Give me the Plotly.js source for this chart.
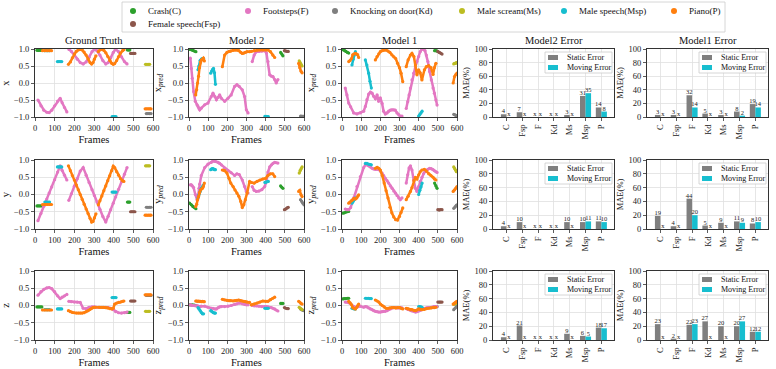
<!DOCTYPE html>
<html><head><meta charset="utf-8">
<script src="https://cdn.plot.ly/plotly-3.0.1.min.js"></script>
<style>html,body{margin:0;padding:0;background:#fff}#chart{width:776px;height:369px}</style>
</head><body><div id="chart"></div>
<script>
// ---------------- categories ----------------
const classKeys = ['C','Fsp','F','Kd','Ms','Msp','P'];
const classNames = ['Crash(C)','Female speech(Fsp)','Footsteps(F)','Knocking on door(Kd)','Male scream(Ms)','Male speech(Msp)','Piano(P)'];
const classColors = ['#2ca02c','#8c564b','#e377c2','#7f7f7f','#bcbd22','#17becf','#ff7f0e'];
const colTitles = ['Ground Truth','Model 2','Model 1','Model2 Error','Model1 Error'];
const yTitlesGT = ['x','y','z'];
const yTitlesPred = ['x<sub><i>pred</i></sub>','y<sub><i>pred</i></sub>','z<sub><i>pred</i></sub>'];
const barCats = ['C','Fsp','F','Kd','Ms','Msp','P'];
const barSeries = ['Static Error','Moving Error'];

// ---------------- Ground truth ----------------
const gt_C_f = [10,18,26,35,null,470,476,482];
const gt_C_x = [0.96,0.96,0.96,0.96,null,0.97,0.97,0.97];
const gt_C_y = [-0.33,-0.33,-0.33,-0.33,null,-0.22,-0.22,-0.22];
const gt_C_z = [-0.04,-0.04,-0.04,-0.04,null,-0.2,-0.2,-0.2];
const gt_Fsp_f = [486,493,500,508];
const gt_Fsp_x = [0.87,0.87,0.87,0.87];
const gt_Fsp_y = [-0.5,-0.5,-0.5,-0.5];
const gt_Fsp_z = [0.13,0.13,0.13,0.13];
const gt_F_f = [15,30,45,60,72,85,100,115,128,138,150,162,null,172,185,200,215,230,245,260,275,290,302,315,330,345,360,372,385,398,410,425,440,455,468];
const gt_F_x = [-0.5,-0.67,-0.8,-0.86,-0.87,-0.8,-0.67,-0.53,-0.45,-0.58,-0.72,-0.85,null,0.99,0.93,0.82,0.7,0.6,0.56,0.62,0.76,0.92,0.99,0.95,0.82,0.66,0.56,0.6,0.74,0.9,0.99,0.92,0.77,0.63,0.56];
const gt_F_y = [-0.76,-0.55,-0.34,-0.13,0.04,0.22,0.43,0.65,0.83,0.7,0.56,0.42,null,-0.17,0.02,0.24,0.46,0.68,0.78,0.56,0.35,0.14,-0.03,-0.22,-0.43,-0.64,-0.8,-0.63,-0.44,-0.25,-0.07,0.15,0.37,0.59,0.78];
const gt_F_z = [0.3,0.4,0.47,0.51,0.52,0.49,0.4,0.28,0.2,0.24,0.28,0.32,null,0.12,0.11,0.1,0.1,0.09,-0.08,-0.09,-0.05,-0.04,-0.04,-0.05,-0.05,-0.05,-0.05,-0.06,-0.08,-0.12,-0.18,-0.21,-0.22,-0.21,-0.19];
const gt_Kd_f = [566,574,582,590];
const gt_Kd_x = [-0.9,-0.9,-0.9,-0.9];
const gt_Kd_y = [-0.37,-0.37,-0.37,-0.37];
const gt_Kd_z = [0.29,0.29,0.29,0.29];
const gt_Ms_f = [562,569,576,583];
const gt_Ms_x = [0.55,0.55,0.55,0.55];
const gt_Ms_y = [0.83,0.83,0.83,0.83];
const gt_Ms_z = [-0.17,-0.17,-0.17,-0.17];
const gt_Msp_f = [50,58,66,74,null,114,121,128,136,null,392,399,406,412];
const gt_Msp_x = [0.95,0.95,0.95,0.95,null,0.63,0.63,0.63,0.63,null,-0.99,-0.99,-0.99,-0.99];
const gt_Msp_y = [-0.22,-0.22,-0.22,-0.22,null,0.8,0.8,0.8,0.8,null,0.07,0.07,0.07,0.07];
const gt_Msp_z = [-0.12,-0.12,-0.12,-0.12,null,-0.1,-0.1,-0.1,-0.1,null,0.23,0.23,0.23,0.23];
const gt_P_f = [38,50,62,74,84,null,170,180,190,200,210,220,230,240,250,260,270,280,288,295,302,310,null,322,330,340,350,360,370,380,390,398,405,415,425,435,445,452,null,560,568,576,584,590];
const gt_P_x = [0.95,0.95,0.95,0.95,0.95,null,0.55,0.62,0.74,0.85,0.93,0.97,0.99,0.97,0.91,0.82,0.71,0.6,0.56,0.6,0.7,0.8,null,0.92,0.97,0.99,0.96,0.89,0.78,0.66,0.58,0.55,0.57,0.66,0.78,0.88,0.95,0.98,null,-0.76,-0.76,-0.76,-0.76,-0.76];
const gt_P_y = [-0.29,-0.29,-0.29,-0.29,-0.29,null,0.83,0.69,0.55,0.42,0.28,0.14,0.0,-0.14,-0.28,-0.42,-0.55,-0.69,-0.8,-0.78,-0.68,-0.56,null,-0.3,-0.18,-0.04,0.11,0.25,0.4,0.54,0.69,0.82,0.78,0.66,0.56,0.46,0.4,0.38,null,-0.6,-0.6,-0.6,-0.6,-0.6];
const gt_P_z = [-0.13,-0.13,-0.13,-0.13,-0.13,null,-0.15,-0.18,-0.2,-0.21,-0.22,-0.22,-0.22,-0.22,-0.21,-0.18,-0.15,-0.11,-0.08,-0.06,-0.05,-0.05,null,-0.05,-0.05,-0.05,-0.05,-0.06,-0.07,-0.09,-0.1,-0.08,0.04,0.07,0.09,0.1,0.12,0.13,null,0.31,0.31,0.31,0.31,0.31];

// ---------------- Model 2 ----------------
const m2_C_f = [3,12,20,28,36,null,478,484,490];
const m2_C_x = [0.99,0.98,0.96,0.94,0.92,null,0.9,0.85,0.8];
const m2_C_y = [-0.25,-0.3,-0.35,-0.38,-0.41,null,0.25,0.21,0.18];
const m2_C_z = [0.02,0.02,0.02,0.01,0.0,null,0.06,0.06,0.06];
const m2_Fsp_f = [498,505,512,518];
const m2_Fsp_x = [0.95,0.94,0.93,0.93];
const m2_Fsp_y = [-0.44,-0.42,-0.39,-0.37];
const m2_Fsp_z = [-0.06,-0.08,-0.09,-0.09];
const m2_F_f = [7,12,17,24,33,42,47,52,56,64,82,99,116,125,135,143,152,160,169,186,203,220,238,250,262,278,290,299,308,null,330,340,351,365,380,395,404,412,421,430,438,447,455,464];
const m2_F_x = [0.73,0.43,0.14,-0.25,-0.54,-0.64,-0.69,-0.75,-0.79,-0.74,-0.64,-0.59,-0.4,-0.3,-0.4,-0.49,-0.42,-0.35,-0.45,-0.54,-0.45,-0.35,-0.1,-0.05,-0.1,-0.2,-0.4,-0.79,-0.88,null,0.63,0.82,0.92,0.93,0.94,0.95,0.88,0.63,0.24,0.2,0.19,0.1,0.0,0.1];
const m2_F_y = [0.28,0.28,0.25,0.2,0.0,-0.15,-0.06,0.18,0.3,0.55,0.78,0.88,0.93,0.97,0.96,0.95,0.93,0.9,0.86,0.76,0.69,0.63,0.55,0.6,0.58,0.42,0.23,0.09,0.04,null,0.23,0.12,0.09,0.1,0.14,0.23,0.38,0.65,0.8,0.86,0.9,0.93,0.92,0.91];
const m2_F_z = [0.02,0.01,0.0,0.0,-0.01,-0.01,-0.02,-0.03,-0.03,-0.02,-0.02,-0.05,-0.08,-0.08,-0.1,-0.1,-0.06,-0.04,-0.03,-0.03,-0.02,0.0,0.03,0.05,0.07,0.05,0.03,0.02,0.02,null,0.0,-0.01,-0.01,-0.02,-0.03,-0.03,-0.03,-0.04,-0.05,-0.06,-0.08,-0.1,-0.13,-0.16];
const m2_Kd_f = [582,588,594,600];
const m2_Kd_x = [-0.97,-0.98,-0.98,-0.98];
const m2_Kd_y = [-0.15,-0.2,-0.25,-0.3];
const m2_Kd_z = [-0.1,-0.12,-0.14,-0.15];
const m2_Ms_f = [575,580,585,590];
const m2_Ms_x = [0.65,0.6,0.55,0.5];
const m2_Ms_y = [0.62,0.7,0.75,0.8];
const m2_Ms_z = [-0.05,-0.08,-0.1,-0.12];
const m2_Msp_f = [47,52,58,64,70,76,null,113,118,123,128,133,138,null,396,402,408,414];
const m2_Msp_x = [0.39,0.5,0.66,0.7,0.72,0.72,null,0.29,0.35,0.4,0.43,0.3,-0.04,null,-0.98,-0.98,-0.99,-0.99];
const m2_Msp_y = [-0.1,0.0,0.09,0.18,0.23,0.28,null,0.72,0.74,0.75,0.74,0.72,0.72,null,0.35,0.36,0.37,0.38];
const m2_Msp_z = [-0.06,-0.1,-0.15,-0.2,-0.24,-0.24,null,-0.15,-0.17,-0.19,-0.21,-0.22,-0.22,null,-0.08,-0.08,-0.08,-0.08];
const m2_P_f = [35,40,45,50,55,60,65,70,75,80,null,174,186,198,209,218,230,240,250,260,270,278,286,294,303,316,null,325,340,355,370,385,400,412,425,437,447,null,572,578,584,590];
const m2_P_x = [-0.35,-0.2,0.0,0.2,0.45,0.62,0.68,0.7,0.73,0.65,null,0.48,0.82,0.9,0.93,0.94,0.96,0.97,0.97,0.95,0.9,0.87,0.88,0.9,0.92,0.92,null,0.93,0.95,0.97,0.97,0.97,0.97,0.97,0.92,0.82,0.75,null,0.58,0.45,0.35,0.3];
const m2_P_y = [-0.35,-0.28,-0.15,-0.06,0.06,0.13,0.16,0.18,0.23,0.33,null,0.71,0.69,0.62,0.47,0.33,0.23,0.13,0.04,-0.05,-0.2,-0.38,-0.3,-0.15,0.04,0.38,null,0.35,0.33,0.38,0.42,0.45,0.47,0.55,0.6,0.6,0.52,null,0.09,0.12,0.0,-0.06];
const m2_P_z = [0.13,0.13,0.12,0.13,0.12,0.12,0.11,0.12,0.11,0.11,null,0.18,0.16,0.15,0.14,0.14,0.13,0.14,0.15,0.16,0.14,0.13,0.12,0.11,0.1,0.09,null,0.02,0.04,0.07,0.1,0.13,0.12,0.12,0.17,0.21,0.24,null,0.12,0.1,0.06,0.04];

// ---------------- Model 1 ----------------
const m1_C_f = [5,12,20,28,35,null,483,490,496];
const m1_C_x = [0.98,0.96,0.93,0.9,0.88,null,0.95,0.95,0.94];
const m1_C_y = [-0.54,-0.53,-0.51,-0.5,-0.49,null,0.33,0.25,0.18];
const m1_C_z = [0.19,0.2,0.2,0.21,0.21,null,-0.03,-0.03,-0.03];
const m1_Fsp_f = [500,507,514,522];
const m1_Fsp_x = [0.93,0.9,0.88,0.85];
const m1_Fsp_y = [-0.44,-0.45,-0.44,-0.44];
const m1_Fsp_z = [0.1,0.1,0.1,0.1];
const m1_F_f = [17,26,35,45,61,78,96,113,122,130,139,148,157,165,174,183,191,200,209,217,226,235,243,252,261,270,278,287,296,304,313,null,335,343,350,357,365,374,383,391,400,408,417,425,433,440,448,457,466,475,482,490,496];
const m1_F_x = [-0.15,-0.35,-0.59,-0.7,-0.88,-0.91,-0.88,-0.83,-0.69,-0.49,-0.33,-0.27,-0.3,-0.39,-0.46,-0.35,-0.54,-0.44,-0.6,-0.83,-0.91,-0.88,-0.83,-0.8,-0.79,-0.79,-0.8,-0.88,-0.93,-0.98,-0.97,null,-0.75,-0.55,-0.35,-0.15,0.09,0.29,0.48,0.63,0.78,0.92,1.0,0.99,0.95,0.82,0.63,0.34,0.09,-0.15,-0.3,-0.5,-0.65];
const m1_F_y = [-0.42,-0.44,-0.44,-0.38,-0.1,0.23,0.52,0.78,0.86,0.86,0.83,0.8,0.76,0.74,0.73,0.73,0.73,0.68,0.62,0.55,0.47,0.4,0.33,0.25,0.18,0.1,0.04,-0.03,-0.1,-0.15,-0.1,null,0.33,0.57,0.77,0.83,0.71,0.42,0.18,0.09,0.23,0.38,0.5,0.6,0.66,0.7,0.73,0.76,0.75,0.72,0.69,0.66,0.64];
const m1_F_z = [0.1,0.1,0.08,0.05,-0.03,-0.05,-0.02,-0.05,-0.03,-0.04,-0.07,-0.1,-0.12,-0.15,-0.17,-0.18,-0.19,-0.19,-0.18,-0.17,-0.17,-0.15,-0.12,-0.1,-0.07,-0.06,-0.06,-0.07,-0.07,-0.06,-0.07,null,-0.09,-0.11,-0.12,-0.14,-0.16,-0.17,-0.19,-0.18,-0.16,-0.14,-0.11,-0.09,-0.08,-0.07,-0.06,-0.06,-0.05,-0.04,-0.03,-0.03,-0.03];
const m1_Kd_f = [583,590,596,600];
const m1_Kd_x = [-0.92,-0.94,-0.96,-0.97];
const m1_Kd_y = [-0.4,-0.36,-0.32,-0.3];
const m1_Kd_z = [-0.12,-0.08,-0.04,-0.02];
const m1_Ms_f = [583,588,593,597];
const m1_Ms_x = [0.56,0.58,0.58,0.6];
const m1_Ms_y = [0.8,0.75,0.7,0.66];
const m1_Ms_z = [0.03,0.05,0.06,0.07];
const m1_Msp_f = [52,58,64,70,null,122,130,139,146,153,null,400,406,412,418];
const m1_Msp_x = [0.53,0.7,0.82,0.92,null,0.68,0.53,0.29,0.05,-0.15,null,-0.97,-0.93,-0.88,-0.83];
const m1_Msp_y = [-0.25,-0.2,-0.15,-0.1,null,0.9,0.9,0.88,0.87,0.86,null,0.0,0.12,0.22,0.33];
const m1_Msp_z = [-0.08,-0.09,-0.1,-0.1,null,0.21,0.21,0.21,0.2,0.2,null,-0.03,-0.03,-0.04,-0.05];
const m1_P_f = [35,42,50,56,63,70,77,82,87,null,174,183,192,200,210,220,230,240,250,260,270,280,290,300,308,317,null,335,345,357,365,375,383,391,400,408,417,430,440,452,464,475,482,490,null,580,587,594,600];
const m1_P_x = [0.63,0.66,0.72,0.83,0.86,0.87,0.85,0.83,0.75,null,0.68,0.78,0.86,0.92,0.95,0.97,0.97,0.94,0.9,0.83,0.77,0.72,0.58,0.45,0.29,0.04,null,0.48,0.68,0.82,0.87,0.78,0.53,0.24,0.39,0.3,0.09,0.39,0.48,0.51,0.45,0.25,0.45,0.58,null,0.0,0.19,0.25,0.29];
const m1_P_y = [-0.25,-0.22,-0.18,-0.15,-0.11,-0.13,-0.1,-0.05,-0.01,null,0.76,0.79,0.76,0.71,0.55,0.33,0.11,-0.1,-0.37,-0.53,-0.65,-0.73,-0.74,-0.64,-0.52,-0.39,null,-0.15,-0.05,0.09,0.2,0.4,0.5,0.45,0.57,0.66,0.71,0.73,0.68,0.6,0.55,0.5,0.45,0.42,null,0.09,0.13,0.18,0.23];
const m1_P_z = [0.12,0.08,0.02,-0.06,-0.09,-0.1,-0.05,0.0,0.04,null,0.16,0.13,0.1,0.04,0.0,-0.04,-0.08,-0.08,-0.07,-0.06,-0.06,-0.07,-0.06,-0.06,-0.08,-0.1,null,-0.08,-0.1,-0.12,-0.12,-0.14,-0.15,-0.13,-0.1,-0.11,-0.12,-0.11,-0.09,-0.08,-0.07,-0.06,-0.06,-0.05,null,0.04,0.07,0.1,0.12];

// ---------------- Error bars (MAE %) ; null = "x" ----------------
const m2err_x_static = [4,7,null,null,3,31,14];
const m2err_x_moving = [null,null,null,null,null,35,8];
const m2err_y_static = [4,10,null,null,10,10,11];
const m2err_y_moving = [null,null,null,null,null,11,10];
const m2err_z_static = [4,21,null,null,9,6,18];
const m2err_z_moving = [null,null,null,null,null,5,17];
const m1err_x_static = [3,3,32,5,3,8,19];
const m1err_x_moving = [null,null,14,null,null,2,14];
const m1err_y_static = [19,4,44,5,9,11,8];
const m1err_y_moving = [null,null,20,null,null,9,10];
const m1err_z_static = [23,2,22,27,20,20,12];
const m1err_z_moving = [null,null,23,null,null,27,12];

// ---------------- build ----------------
const DATA = {
  gt: {C:[gt_C_f,gt_C_x,gt_C_y,gt_C_z],Fsp:[gt_Fsp_f,gt_Fsp_x,gt_Fsp_y,gt_Fsp_z],F:[gt_F_f,gt_F_x,gt_F_y,gt_F_z],Kd:[gt_Kd_f,gt_Kd_x,gt_Kd_y,gt_Kd_z],Ms:[gt_Ms_f,gt_Ms_x,gt_Ms_y,gt_Ms_z],Msp:[gt_Msp_f,gt_Msp_x,gt_Msp_y,gt_Msp_z],P:[gt_P_f,gt_P_x,gt_P_y,gt_P_z]},
  m2: {C:[m2_C_f,m2_C_x,m2_C_y,m2_C_z],Fsp:[m2_Fsp_f,m2_Fsp_x,m2_Fsp_y,m2_Fsp_z],F:[m2_F_f,m2_F_x,m2_F_y,m2_F_z],Kd:[m2_Kd_f,m2_Kd_x,m2_Kd_y,m2_Kd_z],Ms:[m2_Ms_f,m2_Ms_x,m2_Ms_y,m2_Ms_z],Msp:[m2_Msp_f,m2_Msp_x,m2_Msp_y,m2_Msp_z],P:[m2_P_f,m2_P_x,m2_P_y,m2_P_z]},
  m1: {C:[m1_C_f,m1_C_x,m1_C_y,m1_C_z],Fsp:[m1_Fsp_f,m1_Fsp_x,m1_Fsp_y,m1_Fsp_z],F:[m1_F_f,m1_F_x,m1_F_y,m1_F_z],Kd:[m1_Kd_f,m1_Kd_x,m1_Kd_y,m1_Kd_z],Ms:[m1_Ms_f,m1_Ms_x,m1_Ms_y,m1_Ms_z],Msp:[m1_Msp_f,m1_Msp_x,m1_Msp_y,m1_Msp_z],P:[m1_P_f,m1_P_x,m1_P_y,m1_P_z]}
};
const ERR = {
  m2: [[m2err_x_static,m2err_x_moving],[m2err_y_static,m2err_y_moving],[m2err_z_static,m2err_z_moving]],
  m1: [[m1err_x_static,m1err_x_moving],[m1err_y_static,m1err_y_moving],[m1err_z_static,m1err_z_moving]]
};

const W = 776, H = 369;
const FONT = 'Liberation Serif, Times New Roman, serif';
const colPx = [[35,153],[189,304],[342,457],[493,614],[647,768]];
const rowPx = [[49,117],[160,229],[271,340]];
const px = v => v / W, py = v => 1 - v / H;

const traces = [];
const layout = {
  width: W, height: H, margin: {l:0,r:0,t:0,b:0},
  paper_bgcolor: '#fff', plot_bgcolor: '#fff',
  showlegend: false, barmode: 'group', bargap: 0.3, bargroupgap: 0,
  font: {family: FONT, color: '#111'},
  annotations: [], shapes: []
};

const axBase = {
  showline: true, mirror: true, linecolor: '#333', linewidth: 1,
  ticks: 'outside', ticklen: 3, tickwidth: 0.8, tickcolor: '#333',
  tickfont: {family: FONT, size: 8.5, color: '#222'},
  showgrid: true, gridcolor: '#e0e0e0', gridwidth: 0.8, zeroline: false
};

const modelKeys = ['gt','m2','m1'];
const barColors = ['#7f7f7f', '#17becf'];
const valFont = {family: FONT, size: 6.5, color: '#222222'};
for (let r = 0; r < 3; r++) {
  for (let c = 0; c < 5; c++) {
    const n = r * 5 + c + 1;
    const xk = 'xaxis' + (n === 1 ? '' : n), yk = 'yaxis' + (n === 1 ? '' : n);
    const xd = [px(colPx[c][0]), px(colPx[c][1])];
    const yd = [py(rowPx[r][1]), py(rowPx[r][0])];
    if (c < 3) {
      layout[xk] = Object.assign({}, axBase, {domain: xd, anchor: 'y' + n, range: [0, 600],
        tickvals: [0,100,200,300,400,500,600],
        title: {text: 'Frames', font: {family: FONT, size: 10.5, color: '#111'}, standoff: 3}});
      layout[yk] = Object.assign({}, axBase, {domain: yd, anchor: 'x' + n, range: [-1, 1],
        tickvals: [-1,-0.5,0,0.5,1], ticktext: ['\u22121.0','\u22120.5','0.0','0.5','1.0'],
        title: {text: c === 0 ? yTitlesGT[r] : yTitlesPred[r], font: {family: FONT, size: 10.5, color: '#111'}, standoff: 4}});
      const M = DATA[modelKeys[c]];
      classKeys.forEach((k, i) => {
        const d = M[k];
        traces.push({type: 'scatter', mode: 'lines+markers', x: d[0], y: d[r + 1],
          xaxis: 'x' + n, yaxis: 'y' + n, connectgaps: false, cliponaxis: true,
          line: {color: classColors[i], width: 2.5}, marker: {color: classColors[i], size: 3.2},
          hoverinfo: 'skip', showlegend: false});
      });
    } else {
      layout[xk] = Object.assign({}, axBase, {domain: xd, anchor: 'y' + n, type: 'category',
        range: [-0.85, 6.8], tickangle: -90, categoryorder: 'array', categoryarray: barCats});
      layout[yk] = Object.assign({}, axBase, {domain: yd, anchor: 'x' + n, range: [0, 100], dtick: 20,
        title: {text: 'MAE(%)', font: {family: FONT, size: 8.5, color: '#111'}, standoff: 3}});
      const pair = ERR[c === 3 ? 'm2' : 'm1'][r];
      pair.forEach((vals, s) => {
        traces.push({type: 'bar', x: barCats, y: vals.map(v => v === null ? 0 : v),
          text: vals.map(v => v === null ? 'x' : String(v)), textposition: 'outside',
          constraintext: 'none', cliponaxis: false,
          textfont: valFont, outsidetextfont: valFont, insidetextfont: valFont,
          marker: {color: barColors[s], line: {width: 0}}, offsetgroup: String(s),
          xaxis: 'x' + n, yaxis: 'y' + n, hoverinfo: 'skip', showlegend: false});
      });
      // small legend box inside each bar panel
      const bx = colPx[c][1] - 69, by = rowPx[r][0] + 3;
      layout.shapes.push({type: 'rect', xref: 'paper', yref: 'paper', x0: px(bx), x1: px(bx + 67), y0: py(by + 21), y1: py(by),
        line: {color: '#cccccc', width: 0.8}, fillcolor: 'rgba(255,255,255,0.85)'});
      barSeries.forEach((name, s) => {
        const cy = by + 5.5 + s * 10;
        layout.shapes.push({type: 'rect', xref: 'paper', yref: 'paper', x0: px(bx + 3), x1: px(bx + 13), y0: py(cy + 2.5), y1: py(cy - 2.5),
          line: {width: 0}, fillcolor: barColors[s]});
        layout.annotations.push({xref: 'paper', yref: 'paper', x: px(bx + 20), y: py(cy), xanchor: 'left', yanchor: 'middle',
          text: name, showarrow: false, font: {family: FONT, size: 8, color: '#111'}});
      });
    }
    if (r === 0) {
      layout.annotations.push({xref: 'paper', yref: 'paper', x: px((colPx[c][0] + colPx[c][1]) / 2), y: py(rowPx[0][0] - 1),
        xanchor: 'center', yanchor: 'bottom', text: colTitles[c], showarrow: false,
        font: {family: FONT, size: 10.5, color: '#111'}});
    }
  }
}

// ---------------- main legend (matplotlib-like, 6 columns) ----------------
const legX = 122, legX2 = 725, legY = 2, legY2 = 32;
layout.shapes.push({type: 'rect', xref: 'paper', yref: 'paper', x0: px(legX), x1: px(legX2), y0: py(legY2), y1: py(legY),
  line: {color: '#cccccc', width: 0.8}, fillcolor: 'rgba(255,255,255,0.9)'});
const legItems = [ // [classIndex, markerX, row]
  [0, 133, 0], [1, 133, 1], [2, 248, 0], [3, 335, 0], [4, 462, 0], [5, 564, 0], [6, 674, 0]
];
legItems.forEach(([i, mx, row]) => {
  const cy = row === 0 ? 11 : 24;
  layout.shapes.push({type: 'circle', xref: 'paper', yref: 'paper', x0: px(mx - 3), x1: px(mx + 3), y0: py(cy + 3), y1: py(cy - 3),
    line: {width: 0}, fillcolor: classColors[i]});
  layout.annotations.push({xref: 'paper', yref: 'paper', x: px(mx + 13), y: py(cy), xanchor: 'left', yanchor: 'middle',
    text: classNames[i], showarrow: false, font: {family: FONT, size: 9, color: '#111'}});
});

Plotly.newPlot('chart', traces, layout, {staticPlot: true, displayModeBar: false});
</script></body></html>
